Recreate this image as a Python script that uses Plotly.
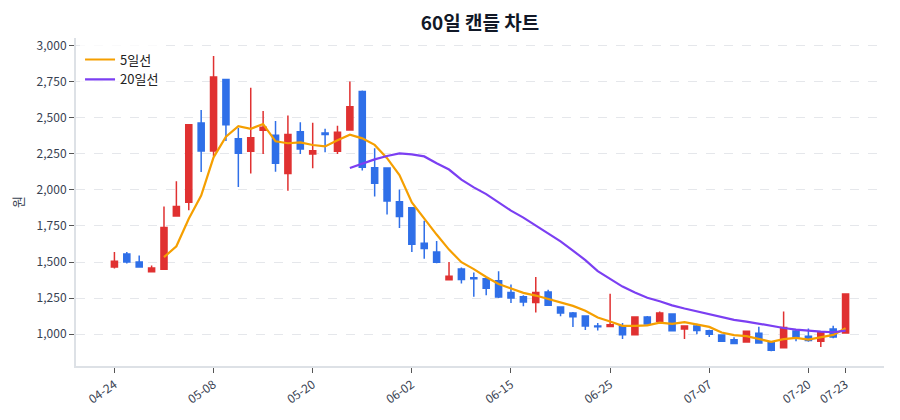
import plotly.graph_objects as go
import pandas as pd

dates = [
    "04-24", "04-25", "04-26", "04-29", "04-30", "05-02", "05-03", "05-07",
    "05-08", "05-09", "05-10", "05-13", "05-14", "05-15", "05-16", "05-17",
    "05-20", "05-21", "05-22", "05-23", "05-24", "05-27", "05-28", "05-29",
    "06-02", "06-03", "06-04", "06-05", "06-07", "06-10", "06-11", "06-12",
    "06-15", "06-17", "06-18", "06-19", "06-20", "06-21", "06-23", "06-24",
    "06-25", "06-26", "06-27", "06-28", "07-01", "07-02", "07-03", "07-04",
    "07-07", "07-08", "07-09", "07-10", "07-11", "07-14", "07-15", "07-16",
    "07-20", "07-21", "07-22", "07-23",
]

open_ = [
    1465, 1555, 1500, 1432, 1450, 1820, 1915, 2465, 2270, 2767,
    2355, 2268, 2415, 2380, 2115, 2405, 2250, 2395, 2268, 2416,
    2684, 2155, 2152, 1919, 1877, 1630, 1570, 1376, 1452, 1390,
    1384, 1370, 1289, 1259, 1218, 1292, 1187, 1146, 1125, 1056,
    1053, 1058, 995, 1118, 1088, 1139, 1035, 1056, 1023, 993,
    961, 944, 1005, 940, 905, 1021, 985, 949, 1035, 1007,
]
high = [
    1570, 1570, 1545, 1475, 1885, 2060, 2455, 2555, 2930, 2767,
    2430, 2710, 2548, 2478, 2517, 2470, 2466, 2425, 2446, 2753,
    2690, 2289, 2152, 2004, 1877, 1787, 1646, 1500, 1461, 1427,
    1390, 1435, 1343, 1269, 1396, 1308, 1187, 1153, 1125, 1076,
    1280, 1076, 1118, 1125, 1157, 1139, 1056, 1072, 1030, 998,
    977, 1025, 1051, 940, 1157, 1035, 1039, 1012, 1058, 1278,
]
low = [
    1455, 1490, 1460, 1430, 1450, 1820, 1860, 2125, 2235, 2340,
    2020, 2115, 2250, 2127, 1995, 2250, 2150, 2262, 2250, 2416,
    2135, 1954, 1830, 1736, 1570, 1523, 1491, 1376, 1350, 1258,
    1269, 1250, 1215, 1192, 1150, 1199, 1123, 1049, 1028, 1025,
    1053, 965, 995, 1069, 1088, 1019, 965, 998, 979, 944,
    931, 944, 935, 880, 905, 949, 947, 910, 970, 1007,
]
close = [
    1505, 1500, 1465, 1458, 1740, 1885, 2453, 2270, 2785, 2453,
    2255, 2362, 2435, 2185, 2385, 2285, 2272, 2385, 2400, 2577,
    2157, 2046, 1923, 1815, 1623, 1593, 1498, 1401, 1378, 1384,
    1317, 1257, 1250, 1222, 1289, 1199, 1146, 1120, 1056, 1050,
    1065, 995, 1118, 1070, 1146, 1023, 1056, 1025, 998, 949,
    935, 1019, 937, 887, 1046, 979, 955, 1012, 979, 1278,
]

ma5 = pd.Series(close).rolling(5).mean()
ma20 = pd.Series(close).rolling(20).mean()

tick_idx = [0, 8, 16, 24, 32, 40, 48, 56, 59]
tick_vals = [dates[i] for i in tick_idx]

RED = "#e03131"
BLUE = "#2f6fe8"

fig = go.Figure()
fig.add_trace(go.Candlestick(
    x=dates, open=open_, high=high, low=low, close=close,
    increasing=dict(line=dict(color=RED, width=1.5), fillcolor=RED),
    decreasing=dict(line=dict(color=BLUE, width=1.5), fillcolor=BLUE),
    whiskerwidth=0, showlegend=False, name="",
))
fig.add_trace(go.Scatter(
    x=dates, y=ma5, mode="lines", name="5일선",
    line=dict(color="#f59f00", width=2.2),
))
fig.add_trace(go.Scatter(
    x=dates, y=ma20, mode="lines", name="20일선",
    line=dict(color="#7b3ff2", width=2.2),
))

fig.update_layout(
    width=900, height=420,
    margin=dict(l=76, r=16, t=38, b=54),
    paper_bgcolor="white", plot_bgcolor="white",
    font=dict(family="Noto Sans CJK KR, Noto Sans, sans-serif", size=12, color="#374151"),
    title=dict(text="<b>60일 캔들 차트</b>", xref="paper", x=0.5, xanchor="center",
               yref="container", y=0.945, yanchor="middle",
               font=dict(size=19, color="#111827")),
    legend=dict(x=0.005, y=0.98, xanchor="left", yanchor="top",
                bgcolor="rgba(255,255,255,0.8)", font=dict(size=13, color="#222")),
    xaxis=dict(
        type="category", range=[-3.1, 62.1],
        tickmode="array", tickvals=tick_vals, ticktext=tick_vals,
        tickangle=-35, ticks="outside", ticklen=5, tickcolor="#555",
        showline=True, linecolor="#dde1e6", linewidth=2,
        showgrid=False, rangeslider=dict(visible=False),
        tickfont=dict(size=12, color="#374151"),
    ),
    yaxis=dict(
        title=dict(text="원", font=dict(size=13, color="#374151"), standoff=10),
        range=[778, 3055], tickvals=[1000, 1250, 1500, 1750, 2000, 2250, 2500, 2750, 3000],
        tickformat=",", ticks="outside", ticklen=5, tickcolor="#555",
        showline=True, linecolor="#dde1e6", linewidth=2,
        showgrid=True, gridcolor="#e5e7eb", griddash="dash", zeroline=False,
        tickfont=dict(size=12, color="#374151"),
    ),
)

fig.write_html("out.html")
